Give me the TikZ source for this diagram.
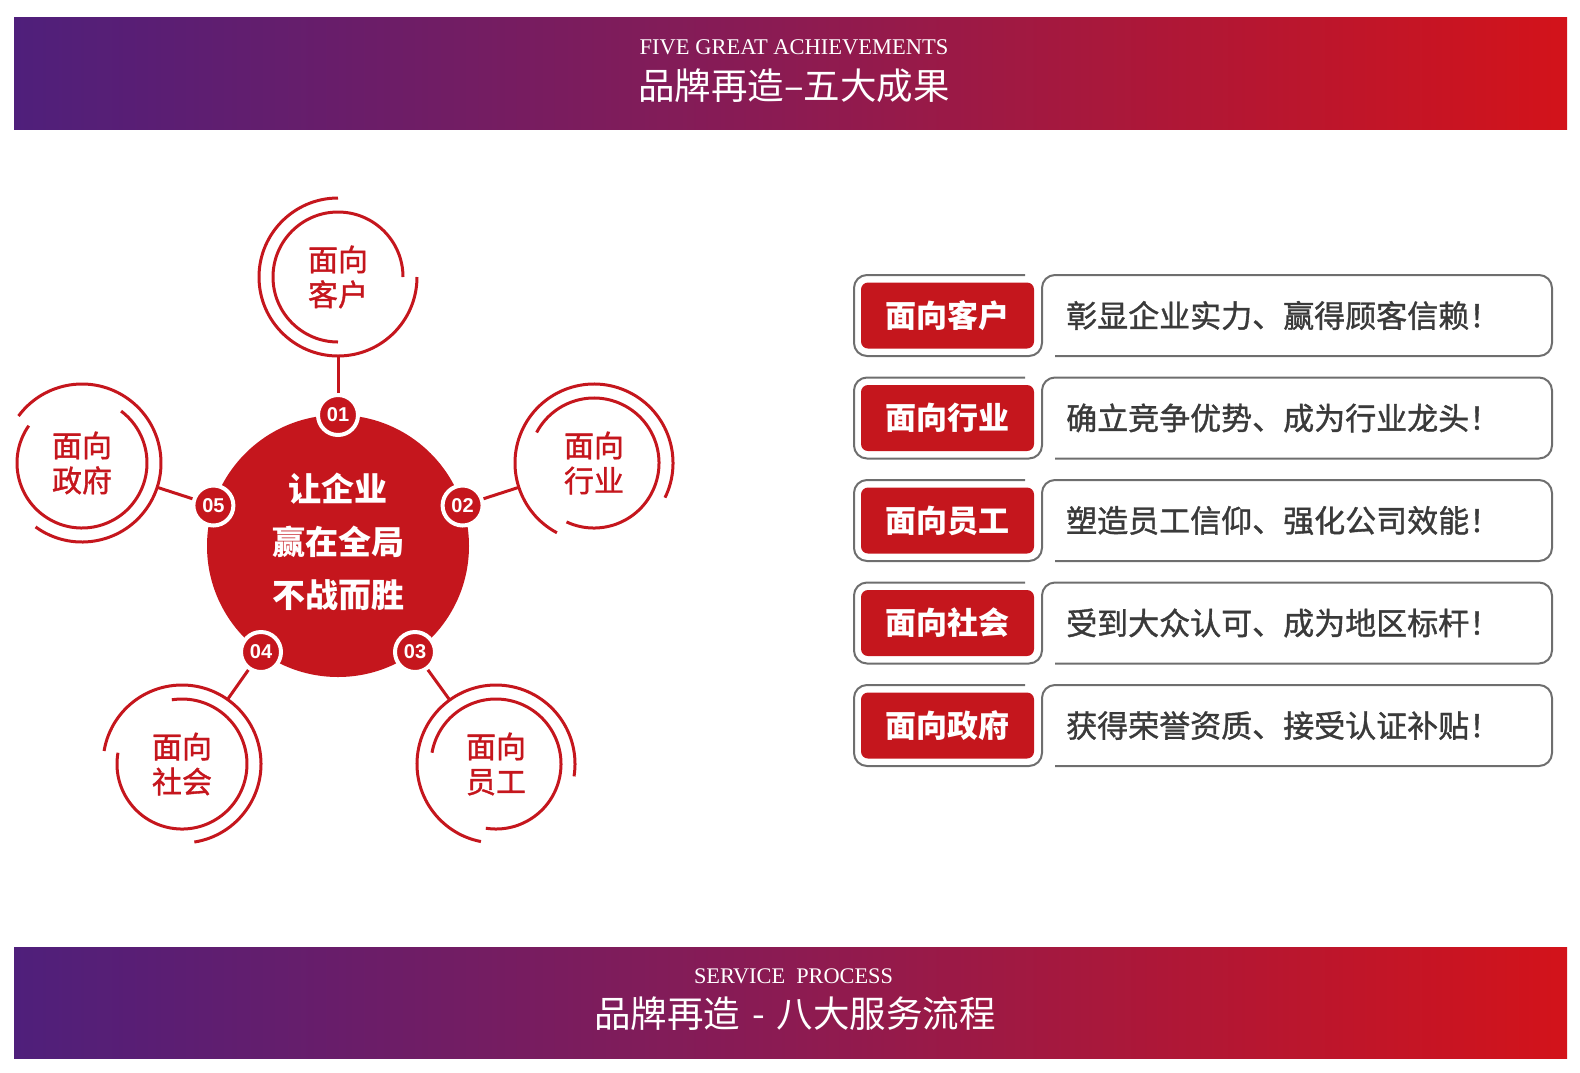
\documentclass[tikz,border=0pt]{standalone}
\usepackage{fontspec}
\setmainfont{Liberation Serif}
\newfontfamily\cjk{Noto Sans CJK SC}
\newfontfamily\cjkmed{Noto Sans CJK SC}[FakeBold=1.2]
\newfontfamily\numfont{Liberation Sans}
\definecolor{bred}{HTML}{C5161D}
\definecolor{bpurple}{HTML}{4F1F7B}
\definecolor{bmid}{HTML}{8C1B52}
\definecolor{bredr}{HTML}{D3131A}
\definecolor{lgray}{HTML}{6E6E6E}
\definecolor{tgray}{HTML}{3A3A3A}
\tikzset{
  satarc/.style={draw=bred, line width=3pt},
  link/.style={draw=bred, line width=3pt},
  sat/.style={circle, minimum size=158pt, inner sep=0pt, outer sep=0pt, text=bred, align=center, font=\cjkmed\fontsize{30}{35}\selectfont},
  badge/.style={circle, fill=bred, draw=white, line width=4pt, minimum size=40pt, inner sep=0pt, text=white, font=\numfont\bfseries\fontsize{20}{20}\selectfont},
  core/.style={circle, fill=bred, minimum size=262pt, inner sep=0pt},
  coretext/.style={align=center, text=white, font=\cjk\bfseries\fontsize{33}{53}\selectfont},
  banner/.style={rectangle, minimum width=1553pt, inner sep=0pt, left color=bpurple, right color=bredr, middle color=bmid},
  rowline/.style={draw=lgray, line width=2pt, rounded corners=13pt},
  btn/.style={rectangle, rounded corners=7pt, fill=bred, minimum width=173pt, minimum height=66pt, inner sep=0pt, text=white, font=\cjk\bfseries\fontsize{31}{31}\selectfont},
  rowtext/.style={anchor=west, inner sep=0pt, text=tgray, font=\cjkmed\fontsize{31}{31}\selectfont},
}
\begin{document}
\begin{tikzpicture}[x=1pt,y=1pt]
\useasboundingbox (0,0) rectangle (1580,-1072);
% banners
\node[banner, minimum height=112pt] (topbar) at (790.5,-73) {};
\node[banner, minimum height=111pt] (botbar) at (790.5,-1002.5) {};
\node[text=white, inner sep=0pt, font=\fontsize{22.5}{22.5}\selectfont] (topsub) at (794,-47.5) {FIVE GREAT ACHIEVEMENTS};
\node[text=white, inner sep=0pt, font=\cjk\fontsize{36.5}{36.5}\selectfont] (toptitle) at (794,-86) {品牌再造–五大成果};
\node[text=white, inner sep=0pt, font=\fontsize{22.3}{22.3}\selectfont] (botsub) at (793.5,-976.5) {SERVICE\ \ PROCESS};
\node[text=white, inner sep=0pt, font=\cjk\fontsize{36.5}{36.5}\selectfont] (bottitle) at (795,-1014) {品牌再造\hspace{0.32em}-\hspace{0.32em}八大服务流程};

% core
\node[core] (core) at (338,-546) {};
\node[coretext] (coretxt) at (338,-542) {让企业\\赢在全局\\不战而胜};

% satellites
\node[sat] (s1) at (338,-277) {面向\\客户};
\node[sat] (s2) at (594,-463) {面向\\行业};
\node[sat] (s3) at (496,-764) {面向\\员工};
\node[sat] (s4) at (182,-764) {面向\\社会};
\node[sat] (s5) at (82,-463) {面向\\政府};

\draw[satarc] (s1.center) ++(90:79) arc[start angle=90, end angle=360, radius=79];
\draw[satarc] (s1.center) ++(0:65) arc[start angle=0, end angle=270, radius=65];
\draw[satarc] (s2.center) ++(-26:79) arc[start angle=-26, end angle=242, radius=79];
\draw[satarc] (s2.center) ++(-115:65) arc[start angle=-115, end angle=152, radius=65];
\draw[satarc] (s3.center) ++(-9:79) arc[start angle=-9, end angle=259, radius=79];
\draw[satarc] (s3.center) ++(-99:65) arc[start angle=-99, end angle=170, radius=65];
\draw[satarc] (s4.center) ++(-81:79) arc[start angle=-81, end angle=170.5, radius=79];
\draw[satarc] (s4.center) ++(-190:65) arc[start angle=-190, end angle=99, radius=65];
\draw[satarc] (s5.center) ++(-126:79) arc[start angle=-126, end angle=143.5, radius=79];
\draw[satarc] (s5.center) ++(-215:65) arc[start angle=-215, end angle=53, radius=65];

% badges
\node[badge] (b1) at (338,-415) {01};
\node[badge] (b2) at (462.6,-505.5) {02};
\node[badge] (b3) at (415,-652) {03};
\node[badge] (b4) at (261,-652) {04};
\node[badge] (b5) at (213.4,-505.5) {05};

\draw[link] (b1) -- (s1);
\draw[link] (b2) -- (s2);
\draw[link] (b3) -- (s3);
\draw[link] (b4) -- (s4);
\draw[link] (b5) -- (s5);

% right rows
\foreach \i/\lab/\txt in {0/面向客户/彰显企业实力、赢得顾客信赖！,
                          1/面向行业/确立竞争优势、成为行业龙头！,
                          2/面向员工/塑造员工信仰、强化公司效能！,
                          3/面向社会/受到大众认可、成为地区标杆！,
                          4/面向政府/获得荣誉资质、接受认证补贴！}{
  \pgfmathsetmacro{\T}{-275-102.5*\i}
  \pgfmathsetmacro{\B}{\T-81}
  \pgfmathsetmacro{\M}{\T-40.5}
  \draw[rowline] (1025,\T) -- (854,\T) -- (854,\B) -- (1042,\B) -- (1042,\T) -- (1552,\T) -- (1552,\B) -- (1055,\B);
  \node[btn] (btn\i) at (947.5,\M) {\lab};
  \node[rowtext] (txt\i) at (1066,\M) {\txt};
}
\end{tikzpicture}
\end{document}
